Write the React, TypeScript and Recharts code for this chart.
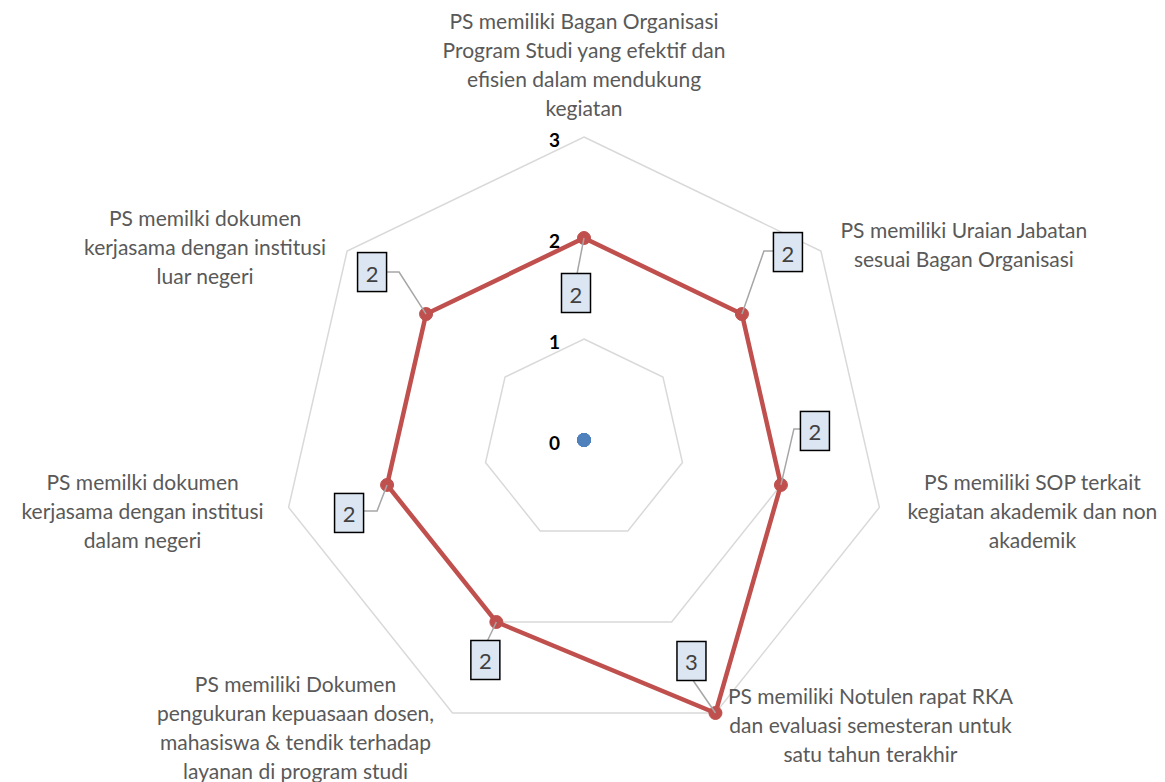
import { LabelList, PolarAngleAxis, PolarGrid, PolarRadiusAxis, Radar, RadarChart } from 'recharts';

const categories = [
  'PS memiliki Bagan Organisasi Program Studi yang efektif dan efisien dalam mendukung kegiatan',
  'PS memiliki Uraian Jabatan sesuai Bagan Organisasi',
  'PS memiliki SOP terkait kegiatan akademik dan non akademik',
  'PS memiliki Notulen rapat RKA dan evaluasi semesteran untuk satu tahun terakhir',
  'PS memiliki Dokumen pengukuran kepuasaan dosen, mahasiswa & tendik terhadap layanan di program studi',
  'PS memilki dokumen kerjasama dengan institusi dalam negeri',
  'PS memilki dokumen kerjasama dengan institusi luar negeri',
];

const categoryLines = [
  ['PS memiliki Bagan Organisasi', 'Program Studi yang efektif dan', 'efisien dalam mendukung', 'kegiatan'],
  ['PS memiliki Uraian Jabatan', 'sesuai Bagan Organisasi'],
  ['PS memiliki SOP terkait', 'kegiatan akademik dan non', 'akademik'],
  ['PS memiliki Notulen rapat RKA', 'dan evaluasi semesteran untuk', 'satu tahun terakhir'],
  ['PS memiliki Dokumen', 'pengukuran kepuasaan dosen,', 'mahasiswa & tendik terhadap', 'layanan di program studi'],
  ['PS memilki dokumen', 'kerjasama dengan institusi', 'dalam negeri'],
  ['PS memilki dokumen', 'kerjasama dengan institusi', 'luar negeri'],
];

const scores = [2, 2, 2, 3, 2, 2, 2];
const baseline = [0, 0, 0, 0, 0, 0, 0];

const data = categories.map((name, i) => ({
  name,
  lines: categoryLines[i],
  score: scores[i],
  base: baseline[i],
}));

const CX = 584;
const CY = 440;
const R = 303;
const LINE_H = 29;

// where the first line of each category label sits, relative to the outer vertex
const labelOffsets = [
  { dx: 0, dy: -117 },
  { dx: 143, dy: -22 },
  { dx: 153, dy: -26 },
  { dx: 155, dy: -18 },
  { dx: -157, dy: -30 },
  { dx: -146, dy: -26 },
  { dx: -142, dy: -34 },
];

// callout box centre (b), elbow (e) and attach point (a), relative to the data point
const callouts = [
  { bx: -8, by: 55, ex: -7, ey: 36, ax: -7, ay: 36 },
  { bx: 46, by: -62, ex: 22, ey: -63, ax: 32, ay: -63 },
  { bx: 34, by: -54, ex: 13, ey: -56, ax: 20, ay: -56 },
  { bx: -24, by: -52, ex: -22, ey: -32, ax: -22, ay: -32 },
  { bx: -11, by: 38, ex: -9, ey: 19, ax: -9, ay: 19 },
  { bx: -38, by: 28, ex: -10, ey: 26, ax: -23, ay: 26 },
  { bx: -54, by: -42, ex: -27, ey: -42, ax: -39, ay: -42 },
];

const FONT = "Lato, 'Open Sans', sans-serif";

function AngleTick(props: any) {
  const { payload, index } = props;
  const rad = (payload.coordinate * Math.PI) / 180;
  const vx = CX + R * Math.cos(rad);
  const vy = CY - R * Math.sin(rad);
  const off = labelOffsets[index];
  const lines = categoryLines[index];
  return (
    <text
      x={vx + off.dx}
      y={vy + off.dy}
      textAnchor="middle"
      dominantBaseline="central"
      fill="#595959"
      fontSize={21}
      fontFamily={FONT}
    >
      {lines.map((ln, i) => (
        <tspan key={i} x={vx + off.dx} dy={i === 0 ? 0 : LINE_H}>
          {ln}
        </tspan>
      ))}
    </text>
  );
}

function RadiusTick(props: any) {
  const { x, y, payload } = props;
  return (
    <text
      x={x - 24}
      y={y + 2}
      textAnchor="end"
      dominantBaseline="central"
      fontSize={19}
      fontWeight="bold"
      fill="#000"
      fontFamily={FONT}
    >
      {payload.value}
    </text>
  );
}

const makeDot = (color: string) => (props: any) => (
  <circle key={`dot-${color}-${props.index}`} cx={props.cx} cy={props.cy} r={6.5} fill={color} stroke={color} />
);

function Callout(props: any) {
  const { x, y, value, index } = props;
  const c = callouts[index];
  if (!c) return null;
  const w = 29;
  const h = 39;
  return (
    <g>
      <polyline
        points={`${x},${y} ${x + c.ex},${y + c.ey} ${x + c.ax},${y + c.ay}`}
        fill="none"
        stroke="#a6a6a6"
        strokeWidth={1.5}
      />
      <rect
        x={x + c.bx - w / 2}
        y={y + c.by - h / 2}
        width={w}
        height={h}
        fill="#dce6f2"
        stroke="#000"
        strokeWidth={1.5}
      />
      <text
        x={x + c.bx}
        y={y + c.by + 1}
        textAnchor="middle"
        dominantBaseline="central"
        fontSize={22}
        fill="#404040"
        fontFamily={FONT}
      >
        {value}
      </text>
    </g>
  );
}

export default function App() {
  return (
    <div style={{ position: 'absolute', left: 0, top: 0, background: '#fff' }}>
      <RadarChart width={1165} height={782} data={data} cx={CX} cy={CY} outerRadius={R}>
        <PolarGrid gridType="polygon" radialLines={false} stroke="#d9d9d9" strokeWidth={1.5} />
        <PolarAngleAxis dataKey="name" tick={<AngleTick />} tickLine={false} axisLine={false} />
        <PolarRadiusAxis
          angle={90}
          domain={[0, 3]}
          tickCount={4}
          axisLine={false}
          tickLine={false}
          tick={<RadiusTick />}
        />
        <Radar
          dataKey="score"
          stroke="#c0504d"
          strokeWidth={4.5}
          fill="none"
          fillOpacity={0}
          dot={makeDot('#c0504d')}
          isAnimationActive={false}
        >
          <LabelList dataKey="score" content={<Callout />} />
        </Radar>
        <Radar
          dataKey="base"
          stroke="#4f81bd"
          strokeWidth={4.5}
          fill="none"
          fillOpacity={0}
          dot={makeDot('#4f81bd')}
          isAnimationActive={false}
        />
      </RadarChart>
    </div>
  );
}
